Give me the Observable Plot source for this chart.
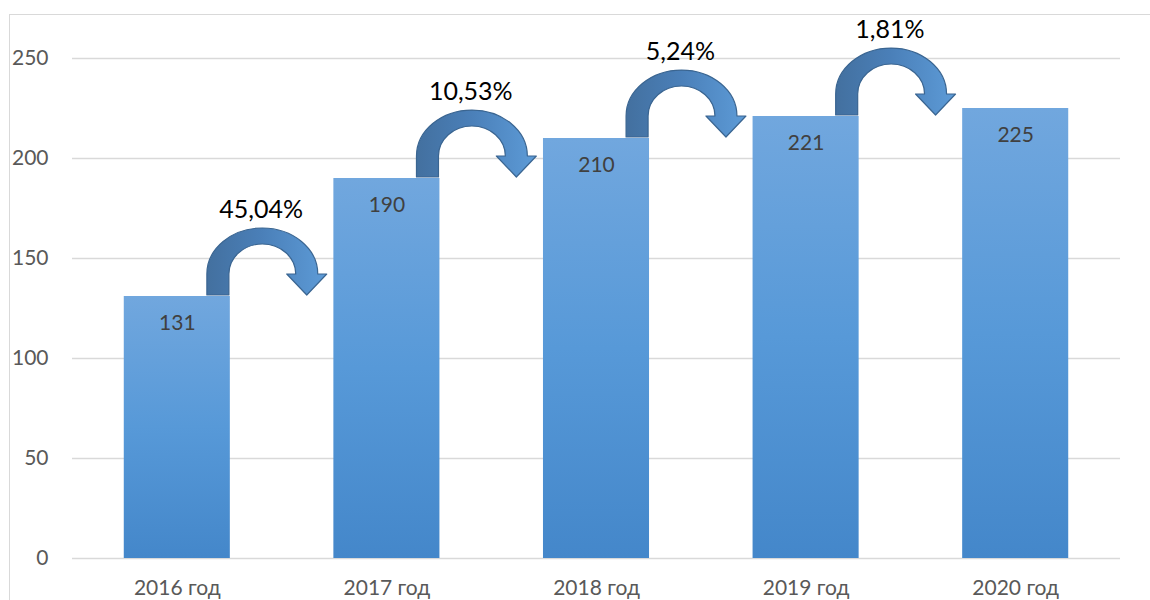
<!DOCTYPE html>
<html>
<head>
<meta charset="utf-8">
<script src="https://cdn.jsdelivr.net/npm/d3@7"></script>
<script src="https://cdn.jsdelivr.net/npm/@observablehq/plot@0.6"></script>
<style>
  body { margin: 0; background: #fff; }
  #chart { position: absolute; left: 0; top: 0; }
  #frame { position: absolute; left: 9px; top: 14px; width: 1141px; height: 586px;
           border-left: 1px solid #d9d9d9; border-top: 1px solid #d9d9d9; box-sizing: border-box; pointer-events: none; }
</style>
</head>
<body>
<div id="chart"></div>
<div id="frame"></div>
<script>
const years = ["2016 год", "2017 год", "2018 год", "2019 год", "2020 год"];
const values = [131, 190, 210, 221, 225];
const growth = ["45,04%", "10,53%", "5,24%", "1,81%"];
const yTicks = [0, 50, 100, 150, 200, 250];

const bars = years.map((year, i) => ({i, year, value: values[i]}));
const steps = growth.map((label, i) => ({i, label, from: values[i], to: values[i + 1]}));

function defs() {
  const g = d3.create("svg:defs");
  const bg = g.append("linearGradient").attr("id", "barGrad").attr("x1", 0).attr("y1", 0).attr("x2", 0).attr("y2", 1);
  bg.append("stop").attr("offset", "0%").attr("stop-color", "#71a7de");
  bg.append("stop").attr("offset", "50%").attr("stop-color", "#5799d8");
  bg.append("stop").attr("offset", "100%").attr("stop-color", "#4487ca");
  const ag = g.append("linearGradient").attr("id", "arrowGrad").attr("x1", 0).attr("y1", 0).attr("x2", 1).attr("y2", 0);
  ag.append("stop").attr("offset", "0%").attr("stop-color", "#43709f");
  ag.append("stop").attr("offset", "45%").attr("stop-color", "#4a7fb8");
  ag.append("stop").attr("offset", "100%").attr("stop-color", "#5d9bd7");
  return g.node();
}

function arrows(index, scales) {
  const {x, y} = scales;
  const g = d3.create("svg:g");
  for (const s of steps) {
    const sx = x(s.i + 0.196), tx = x(s.i + 0.62);
    const sy = y(s.from) - 1, ty = sy;
    const peak = y(s.from + 34);
    const half = 11, wing = 20, head = 21;
    const base = ty - head;
    const r = (tx - sx) / 2;
    const rxO = r + half, rxI = r - half;
    const ryO = base - peak, ryI = ryO - 16;
    const d = [
      `M${sx - half},${sy}`,
      `L${sx - half},${base}`,
      `A${rxO},${ryO} 0 0 1 ${tx + half},${base}`,
      `L${tx + wing},${base}`,
      `L${tx},${ty}`,
      `L${tx - wing},${base}`,
      `L${tx - half},${base}`,
      `A${rxI},${ryI} 0 0 0 ${sx + half},${base}`,
      `L${sx + half},${sy}`,
      "Z"
    ].join(" ");
    g.append("path").attr("d", d).attr("fill", "url(#arrowGrad)")
      .attr("stroke", "#3a6591").attr("stroke-width", 1.2).attr("stroke-linejoin", "round");
  }
  return g.node();
}

const chart = Plot.plot({
  width: 1150,
  height: 600,
  marginLeft: 72,
  marginRight: 30,
  marginTop: 58,
  marginBottom: 42,
  style: {fontFamily: "Lato, 'Open Sans', sans-serif", fontSize: "21px", background: "white"},
  x: {type: "linear", domain: [-0.5, 4.5]},
  y: {domain: [0, 250]},
  marks: [
    defs,
    Plot.ruleY(yTicks, {stroke: "#d9d9d9", strokeWidth: 1.3, strokeOpacity: 1}),
    Plot.axisY(yTicks, {tickSize: 0, tickPadding: 24, fontSize: 21, fill: "#595959", label: null}),
    Plot.axisX([0, 1, 2, 3, 4], {tickFormat: i => years[i], tickSize: 0, tickPadding: 22, fontSize: 21, fill: "#595959", label: null}),
    Plot.rectY(bars, {x1: d => d.i - 0.253, x2: d => d.i + 0.253, y: "value", fill: "url(#barGrad)"}),
    Plot.text(bars, {x: "i", y: "value", text: d => String(d.value), dy: 27, fontSize: 21, fill: "#404040", lineAnchor: "middle"}),
    arrows,
    Plot.text(steps, {x: d => d.i + 0.4, y: d => d.from + 34, text: "label", dy: -19, fontSize: 25, fill: "#000", lineAnchor: "middle"})
  ]
});
document.getElementById("chart").appendChild(chart);
</script>
</body>
</html>
